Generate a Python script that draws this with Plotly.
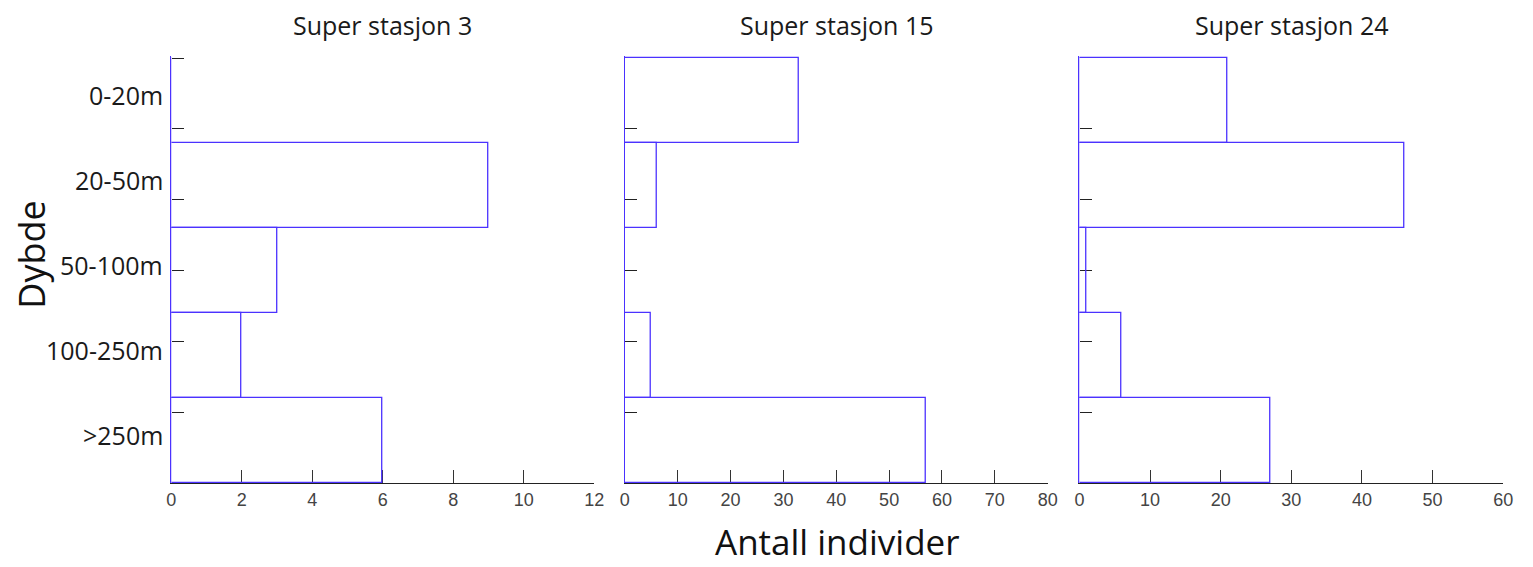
import plotly.graph_objects as go

# Depth bands, top to bottom
depths = ["0-20m", "20-50m", "50-100m", "100-250m", ">250m"]

# Number of individuals per depth band at each station
station_titles = ["Super stasjon 3", "Super stasjon 15", "Super stasjon 24"]
counts_st3 = [0, 9, 3, 2, 6]
counts_st15 = [33, 6, 0, 5, 57]
counts_st24 = [21, 46, 1, 6, 27]

x_max = [12, 80, 60]
x_step = [2, 10, 10]

W, H = 1533, 567
BLUE = "#4b32ff"
TEXT_FONT = "Open Sans, Lato, sans-serif"
TICK_FONT = "Liberation Sans Narrow, Liberation Sans, Arial, sans-serif"

# pixel geometry of the three panels
panel_px = [(168, 595), (626, 1053), (1085, 1513)]
y_bottom_px, y_top_px = 483, 56
band_px = 85  # height of one depth band

# band centres on a numeric axis, first band at top
n = len(depths)
band_pos = [n - 0.5 - i for i in range(n)]
y_ticks = [k * n / 6 for k in range(0, 7)]
y_top_val = (y_bottom_px - y_top_px) / band_px

fig = go.Figure()
series = [counts_st3, counts_st15, counts_st24]
for i, vals in enumerate(series):
    xa = "x" if i == 0 else f"x{i + 1}"
    ya = "y" if i == 0 else f"y{i + 1}"
    fig.add_trace(go.Bar(
        x=vals, y=band_pos, orientation="h", width=1, cliponaxis=False,
        marker=dict(color="rgba(0,0,0,0)", line=dict(color=BLUE, width=1.3)),
        xaxis=xa, yaxis=ya, showlegend=False, hoverinfo="x",
    ))

    x0, x1 = panel_px[i]
    dom_x = [x0 / W, x1 / W]
    dom_y = [(H - y_bottom_px) / H, (H - y_top_px) / H]
    key = "" if i == 0 else str(i + 1)
    fig.layout[f"xaxis{key}"] = dict(
        domain=dom_x, anchor=ya, range=[0, x_max[i]],
        dtick=x_step[i], tick0=0, ticks="inside", ticklen=13, tickwidth=1,
        tickcolor="#333333", showline=True, linecolor="#222222", linewidth=1,
        showgrid=False, zeroline=False, layer="below traces",
        tickfont=dict(family=TICK_FONT, size=18, color="#444444"),
    )
    fig.layout[f"yaxis{key}"] = dict(
        domain=dom_y, anchor=xa, range=[0, y_top_val],
        tickmode="array",
        tickvals=y_ticks[1:] if i == 0 else y_ticks[1:6],
        showticklabels=False, ticks="inside", ticklen=12, tickwidth=1,
        tickcolor="#222222", showline=True, linecolor=BLUE, linewidth=1.3,
        showgrid=False, zeroline=False, layer="below traces",
    )

    fig.add_annotation(
        text=station_titles[i], x=(x0 + x1) / 2 / W, y=(H - 25) / H,
        xref="paper", yref="paper", xanchor="center", yanchor="middle",
        showarrow=False, font=dict(family=TEXT_FONT, size=25, color="#1a1a1a"),
    )

# depth labels left of the first panel
for d, pos in zip(depths, band_pos):
    fig.add_annotation(
        text=d, x=162 / W, xref="paper", y=pos, yref="y",
        xanchor="right", yanchor="middle", yshift=6, showarrow=False,
        font=dict(family=TEXT_FONT, size=25, color="#1a1a1a"),
    )

fig.add_annotation(
    text="Antall individer", x=841 / W, y=(H - 541) / H, xref="paper", yref="paper",
    xanchor="center", yanchor="middle",
    showarrow=False, font=dict(family=TEXT_FONT, size=35, color="#111111"),
)
fig.add_annotation(
    text="Dybde", x=26 / W, y=(H - 255) / H, xref="paper", yref="paper",
    xanchor="center", yanchor="middle",
    textangle=-90, showarrow=False, font=dict(family=TEXT_FONT, size=36, color="#111111"),
)

fig.update_layout(
    width=W, height=H, margin=dict(l=0, r=0, t=0, b=0),
    paper_bgcolor="white", plot_bgcolor="white", bargap=0,
)

# page without body margin so the figure sits flush in the window
fig.write_html(
    "out.html",
    post_script="document.body.style.margin='0';document.body.style.overflow='hidden';",
)
